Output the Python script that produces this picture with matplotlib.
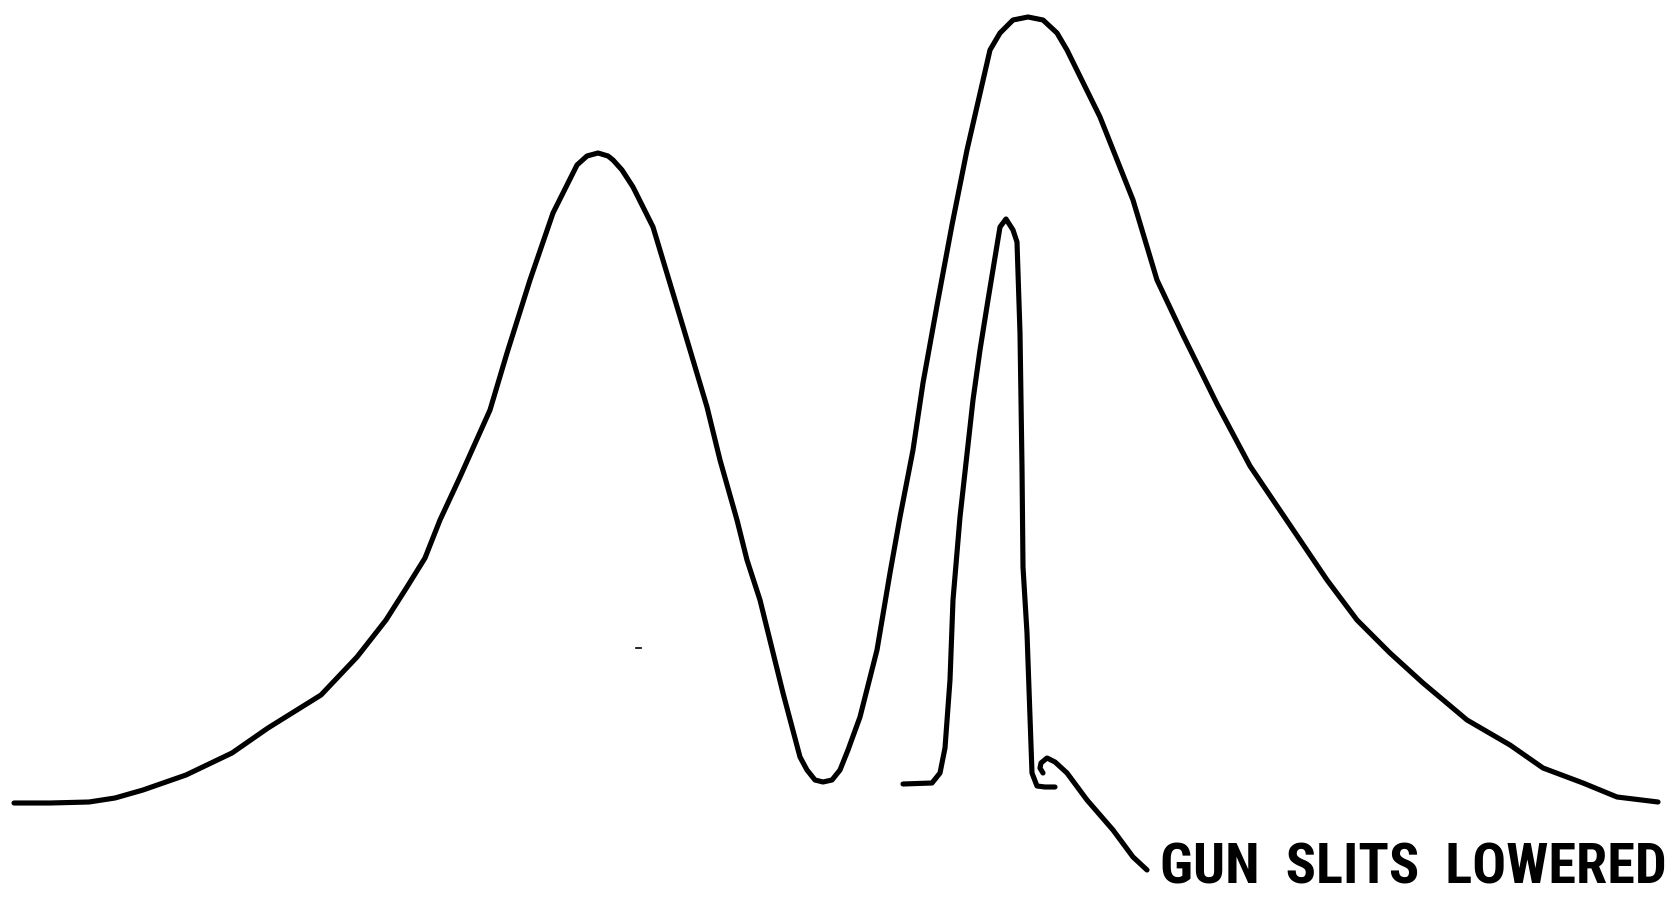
import matplotlib
matplotlib.use("Agg")
import matplotlib.pyplot as plt
from matplotlib import font_manager as fm

# Broad two-peak signal (channel, height; y grows downward as drawn)
main_x = [14, 50, 89, 115, 143, 186, 232, 268, 321, 357, 386, 407, 425, 440, 460, 490,
          507, 530, 553, 577, 587, 598, 608, 613, 622, 633, 653, 675, 690, 707, 720, 737,
          747, 760, 783, 800, 807, 815, 823, 832, 840, 848, 860, 877, 890, 900, 913, 923,
          938, 952, 967, 990, 1000, 1013, 1028, 1043, 1057, 1067, 1100, 1133, 1157, 1183,
          1217, 1250, 1300, 1327, 1357, 1390, 1423, 1467, 1510, 1543, 1583, 1617, 1658]
main_y = [803, 803, 802, 798, 790, 775, 753, 728, 695, 657, 620, 587, 558, 520, 477, 410,
          353, 280, 213, 165, 156, 153, 156, 160, 170, 187, 227, 300, 350, 407, 460, 520,
          560, 600, 693, 757, 770, 780, 782, 780, 770, 750, 717, 650, 573, 517, 450, 383,
          300, 225, 150, 50, 33, 20, 17, 20, 33, 50, 117, 200, 280, 335,
          404, 466, 540, 580, 620, 653, 683, 720, 745, 768, 783, 797, 802]

# Narrow peak with gun slits lowered
narrow_x = [903, 932, 940, 945, 950, 953, 960, 973, 980, 988, 1000, 1006, 1013, 1017,
            1020, 1022, 1023, 1027, 1030, 1032, 1037, 1045, 1055]
narrow_y = [784, 783, 773, 748, 680, 600, 517, 400, 350, 300, 227, 219, 230, 242,
            333, 467, 567, 633, 717, 773, 786, 787, 787]

# Leader line (small hook) from the narrow peak to its label
lead_x = [1043, 1040, 1041, 1047, 1055, 1067, 1087, 1113, 1133, 1147]
lead_y = [773, 768, 763, 758, 762, 773, 800, 830, 857, 870]

# Small stray speck in the sketch
speck_x = [636, 641]
speck_y = [648, 648]

label_text = "GUN  SLITS  LOWERED"

W, H = 1672, 898
fig = plt.figure(figsize=(W / 100, H / 100), dpi=100)
ax = fig.add_axes([0, 0, 1, 1])
ax.set_xlim(0, W)
ax.set_ylim(H, 0)
ax.axis("off")

style = dict(color="black", lw=3.7, solid_joinstyle="round", solid_capstyle="round")
ax.plot(main_x, main_y, **style)
ax.plot(narrow_x, narrow_y, **style)
ax.plot(lead_x, lead_y, **style)
ax.plot(speck_x, speck_y, color="black", lw=1.2)


def has_family(name):
    try:
        fm.findfont(fm.FontProperties(family=name), fallback_to_default=False)
        return True
    except Exception:
        return False


# pick the narrowest suitable font that is installed
font_kw = dict(family="DejaVu Sans", fontweight="bold")
for fam in ["Liberation Sans Narrow", "Roboto Condensed", "Open Sans Condensed"]:
    if has_family(fam):
        font_kw = dict(family=fam, fontweight="bold")
        break
else:
    if has_family("Roboto"):
        font_kw = dict(family="Roboto", fontweight="bold")

txt = ax.text(1160, 869, label_text, fontsize=30, va="center", ha="left",
              color="black", **font_kw)
fig.canvas.draw()
bb = txt.get_window_extent(renderer=fig.canvas.get_renderer())
target_w = 505.0
txt.set_fontsize(30 * target_w / bb.width)

fig.savefig("out.png", dpi=100, facecolor="white")
